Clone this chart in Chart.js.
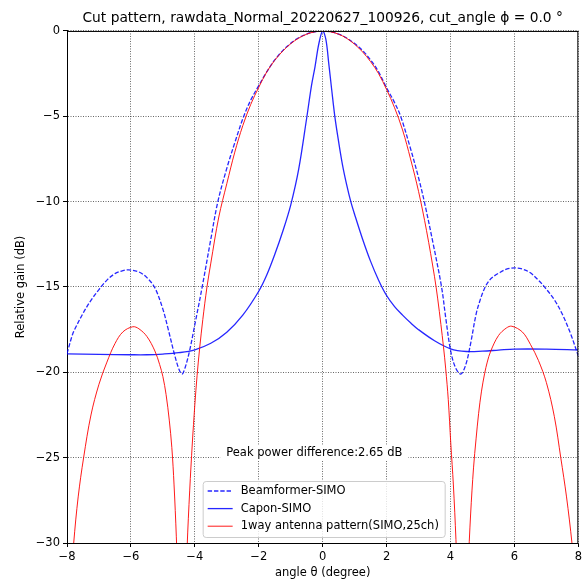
<!DOCTYPE html>
<html><head><meta charset="utf-8">
<script src="https://cdn.jsdelivr.net/npm/chart.js@4"></script>
<style>html,body{margin:0;padding:0;background:#fff}</style>
</head><body>
<canvas id="c" width="585" height="582"></canvas>
<script>
// ---- data ----
const redX = [-8, -7.9, -7.79, -7.65, -7.48, -7.25, -7.0, -6.75, -6.5, -6.25, -5.94, -5.75, -5.5, -5.25, -5.1, -5.0, -4.9, -4.8, -4.72, -4.65, -4.58, -4.5, -4.4, -4.32, -4.24, -4.16, -4.08, -4.0, -3.93, -3.85, -3.75, -3.62, -3.5, -3.25, -3.0, -2.75, -2.5, -2.25, -2.0, -1.75, -1.5, -1.25, -1.0, -0.75, -0.5, -0.25, 0, 0.25, 0.5, 0.75, 1.0, 1.25, 1.5, 1.75, 2.0, 2.25, 2.5, 2.75, 3.0, 3.25, 3.5, 3.6, 3.7, 3.78, 3.85, 3.93, 4.01, 4.09, 4.17, 4.26, 4.36, 4.46, 4.55, 4.63, 4.72, 4.8, 4.88, 4.97, 5.07, 5.15, 5.26, 5.5, 5.75, 5.92, 6.25, 6.5, 6.75, 7.0, 7.25, 7.45, 7.63, 7.8, 7.9, 8.0];
const redY = [-36.5, -33, -30, -27.3, -25, -22.5, -20.7, -19.4, -18.32, -17.63, -17.33, -17.45, -17.9, -18.75, -19.55, -20.25, -21.3, -22.8, -24.4, -26.6, -29.6, -34, -45, -35, -30.2, -26.9, -24.2, -21.9, -20.2, -18.6, -16.9, -15, -13.6, -10.9, -8.95, -7.1, -5.55, -4.3, -3.3, -2.4, -1.72, -1.18, -0.75, -0.42, -0.19, -0.05, 0, -0.05, -0.19, -0.43, -0.78, -1.23, -1.8, -2.5, -3.43, -4.5, -5.8, -7.5, -9.4, -11.7, -14.4, -15.7, -17.2, -18.5, -19.8, -21.6, -24.2, -26.6, -29.8, -34.5, -45, -36, -31.5, -28.3, -25.6, -23.9, -22.4, -21.1, -20.05, -19.4, -18.75, -17.85, -17.4, -17.3, -17.64, -18.36, -19.3, -20.6, -22.6, -25, -27.3, -30, -32.2, -35];

const bfX = [-8, -7.83, -7.75, -7.5, -7.25, -7.0, -6.75, -6.5, -6.25, -6.07, -5.75, -5.5, -5.25, -5.0, -4.83, -4.63, -4.5, -4.4, -4.3, -4.16, -4.0, -3.77, -3.5, -3.28, -3.0, -2.75, -2.48, -2.25, -2.0, -1.75, -1.5, -1.25, -1.0, -0.75, -0.5, -0.25, 0, 0.25, 0.5, 0.75, 1.0, 1.25, 1.5, 1.75, 2.0, 2.25, 2.44, 2.75, 3.0, 3.18, 3.45, 3.72, 3.85, 4.0, 4.15, 4.32, 4.47, 4.62, 4.8, 4.93, 5.06, 5.2, 5.35, 5.5, 5.75, 6.01, 6.25, 6.5, 6.75, 6.92, 7.25, 7.5, 7.75, 8.0];
const bfY = [-18.9, -17.8, -17.45, -16.55, -15.78, -15.15, -14.6, -14.22, -14.04, -14.0, -14.12, -14.45, -15.05, -16.3, -17.5, -19.0, -19.8, -20.1, -19.7, -18.7, -17.2, -15.0, -12.2, -10, -8.05, -6.55, -5.05, -4.05, -3.2, -2.4, -1.7, -1.15, -0.72, -0.4, -0.18, -0.05, 0, -0.05, -0.18, -0.41, -0.74, -1.15, -1.7, -2.4, -3.33, -4.2, -5, -6.9, -8.6, -10, -12.4, -15, -16.8, -18.7, -19.7, -20.1, -19.6, -18.4, -16.6, -15.75, -15.1, -14.65, -14.38, -14.2, -13.96, -13.88, -13.95, -14.17, -14.6, -14.95, -15.75, -16.6, -17.7, -19.05];

const cpX = [-8, -7, -6, -5.5, -5, -4.5, -4, -3.5, -3, -2.5, -2, -1.75, -1.5, -1.25, -1, -0.75, -0.5, -0.35, -0.24, -0.12, 0, 0.1, 0.19, 0.28, 0.38, 0.5, 0.62, 0.75, 0.88, 1, 1.25, 1.5, 1.75, 2, 2.25, 2.5, 2.75, 3, 3.5, 4, 4.5, 5, 5.5, 6, 7, 8];
const cpY = [-18.92, -18.95, -18.97, -18.97, -18.93, -18.85, -18.68, -18.3, -17.65, -16.65, -15.25, -14.3, -13.1, -11.75, -10.2, -8.1, -5.1, -3.2, -2.1, -0.75, 0, -0.5, -1.9, -3.4, -5, -6.5, -7.84, -9.0, -10, -10.75, -12.2, -13.5, -14.6, -15.5, -16.15, -16.65, -17.1, -17.5, -18.15, -18.62, -18.78, -18.76, -18.7, -18.64, -18.64, -18.68];

const seriesNames = ['Beamformer-SIMO', 'Capon-SIMO', '1way antenna pattern(SIMO,25ch)'];
const titleText = 'Cut pattern, rawdata_Normal_20220627_100926, cut_angle ϕ = 0.0 °';
const xLabel = 'angle θ (degree)';
const yLabel = 'Relative gain (dB)';
const noteText = 'Peak power difference:2.65 dB';
const notePos = {x: -0.26, y: -24.72};

const pts = (xs, ys) => xs.map((x, i) => ({x, y: ys[i]}));
const FONT = 'DejaVu Sans';
const FS = 11.5;
const minus = v => String(v).replace('-', '\u2212');

const BLUE = 'rgba(0,0,255,0.85)';
const RED = 'rgba(255,0,0,0.9)';

const overlay = {
  id: 'overlay',
  afterDraw(chart) {
    const {ctx, chartArea: a, scales} = chart;
    ctx.save();
    ctx.strokeStyle = '#000'; ctx.lineWidth = 1; ctx.setLineDash([]);
    ctx.beginPath();
    ctx.moveTo(a.left, a.top + 0.5); ctx.lineTo(a.right, a.top + 0.5);
    ctx.moveTo(a.right - 0.5, a.top); ctx.lineTo(a.right - 0.5, a.bottom);
    ctx.stroke();
    ctx.font = FS + 'px "' + FONT + '"';
    ctx.textAlign = 'center'; ctx.textBaseline = 'middle';
    const nx = scales.x.getPixelForValue(notePos.x), ny = scales.y.getPixelForValue(notePos.y);
    const tw = ctx.measureText(noteText).width;
    ctx.fillStyle = '#fff';
    ctx.fillRect(nx - tw / 2 - 6, ny - 8, tw + 12, 16);
    ctx.fillStyle = '#000';
    ctx.fillText(noteText, nx, ny);
    const lw = 242, lh = 56;
    const lx = (a.left + a.right) / 2 - lw / 2 + 1, ly = a.bottom - 6 - lh;
    ctx.beginPath();
    if (ctx.roundRect) ctx.roundRect(lx + 0.5, ly + 0.5, lw, lh, 3); else ctx.rect(lx + 0.5, ly + 0.5, lw, lh);
    ctx.fillStyle = 'rgba(255,255,255,0.8)'; ctx.fill();
    ctx.strokeStyle = '#cccccc'; ctx.lineWidth = 1; ctx.stroke();
    const styles = [{c: BLUE, d: [4.4, 1.9], w: 1.3}, {c: BLUE, d: [], w: 1.3}, {c: RED, d: [], w: 1}];
    ctx.textAlign = 'left';
    styles.forEach((s, i) => {
      const y = ly + 10 + i * 17.6;
      ctx.beginPath(); ctx.setLineDash(s.d); ctx.strokeStyle = s.c; ctx.lineWidth = s.w;
      ctx.moveTo(lx + 5, y); ctx.lineTo(lx + 30, y); ctx.stroke();
      ctx.setLineDash([]);
      ctx.fillStyle = '#000';
      ctx.fillText(seriesNames[i], lx + 38, y);
    });
    ctx.restore();
  }
};

const gridCfg = {color: 'rgba(0,0,0,0.75)', lineWidth: 0.8, tickColor: '#000', tickLength: 4, tickWidth: 1, tickBorderDash: [1, 0]};
const borderCfg = {display: true, color: '#000', width: 1, dash: [1, 1.5]};
const lineCommon = {showLine: true, pointRadius: 0, tension: 0.35, cubicInterpolationMode: 'default', clip: 0};

new Chart(document.getElementById('c'), {
  type: 'scatter',
  data: {
    datasets: [
      Object.assign({label: seriesNames[2], data: pts(redX, redY), borderColor: RED, borderWidth: 1}, lineCommon),
      Object.assign({label: seriesNames[1], data: pts(cpX, cpY), borderColor: BLUE, borderWidth: 1.3}, lineCommon),
      Object.assign({label: seriesNames[0], data: pts(bfX, bfY), borderColor: BLUE, borderWidth: 1.3, borderDash: [4.4, 1.9]}, lineCommon)
    ]
  },
  options: {
    responsive: false, animation: false, devicePixelRatio: 1,
    elements: {line: {capBezierPoints: false}},
    layout: {padding: {left: 0, right: 3, top: 0, bottom: 0}},
    plugins: {
      legend: {display: false}, tooltip: {enabled: false},
      title: {display: true, text: titleText, fullSize: false, color: '#000', font: {family: FONT, size: 13.8, weight: 'normal'}, padding: {top: 9.7, bottom: 4.7}}
    },
    scales: {
      x: {type: 'linear', min: -8, max: 8,
        ticks: {stepSize: 2, color: '#000', font: {family: FONT, size: FS}, padding: 3, maxRotation: 0, callback: v => minus(v)},
        grid: gridCfg, border: borderCfg,
        title: {display: true, text: xLabel, color: '#000', font: {family: FONT, size: FS}, padding: {top: 0, bottom: 2.1}},
        afterFit: s => { s.height = 39; }
      },
      y: {type: 'linear', min: -30, max: 0,
        ticks: {stepSize: 5, color: '#000', font: {family: FONT, size: FS}, padding: 3, callback: v => minus(v)},
        grid: gridCfg, border: borderCfg,
        title: {display: true, text: yLabel, color: '#000', font: {family: FONT, size: FS}, padding: {top: 14.5, bottom: 0}},
        afterFit: s => { s.width = 67; }
      }
    }
  },
  plugins: [overlay]
});
</script>
</body></html>
